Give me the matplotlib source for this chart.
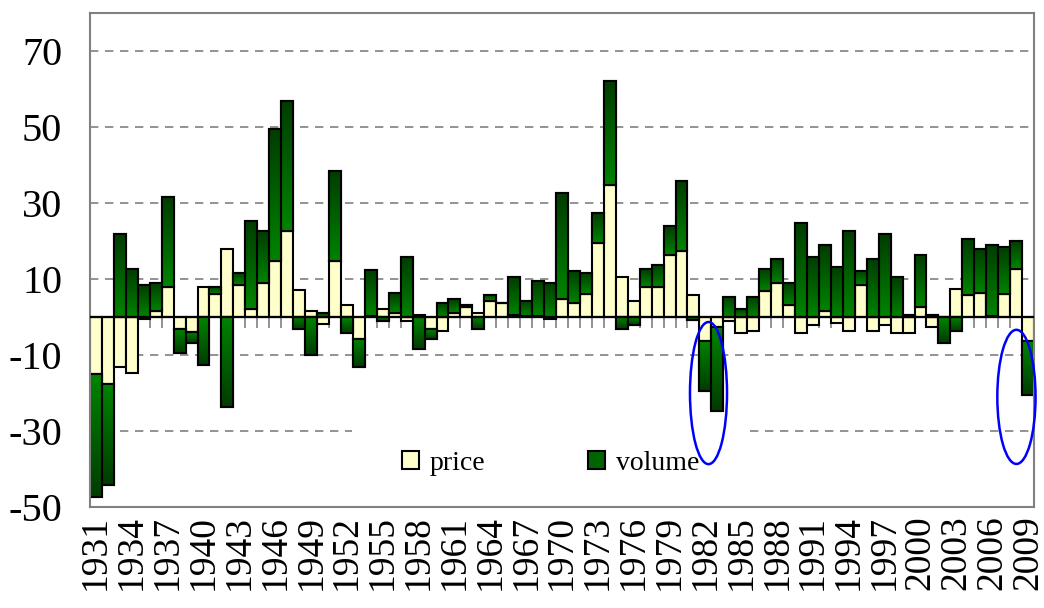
import numpy as np
import matplotlib
matplotlib.use("Agg")
import matplotlib.pyplot as plt
from matplotlib.patches import Ellipse, Rectangle
from matplotlib.colors import LinearSegmentedColormap

# yearly contributions
years = list(range(1931, 2010))
price = [-15.2, -17.8, -13.2, -14.9, -0.5, 1.6, 7.8, -3.2, -3.9, 7.8,
         6.1, 17.8, 8.3, 2.1, 8.9, 14.7, 22.5, 6.9, 1.6, -2.0,
         14.7, 3.2, -5.8, 0.2, 2.1, 1.1, -1.0, 0.4, -3.2, -3.7,
         1.1, 2.6, 1.1, 4.2, 3.7, 0.5, 0.2, 0.2, -0.5, 4.7,
         3.5, 6.1, 19.5, 34.7, 10.5, 4.2, 7.9, 7.9, 16.3, 17.4,
         5.8, -6.4, -2.6, -1.0, -4.2, -3.7, 6.8, 8.9, 3.2, -4.2,
         -2.1, 1.6, -1.6, -3.7, 8.4, -3.7, -2.1, -4.2, -4.2, 2.6,
         -2.6, -0.2, 7.4, 5.8, 6.3, 0.2, 6.1, 12.6, -6.4]
volume = [-32.2, -26.5, 21.7, 12.6, 8.3, 7.4, 23.8, -6.4, -2.9, -12.6,
          1.7, -23.7, 3.3, 23.2, 13.6, 34.8, 34.3, -3.2, -10.0, 0.9,
          23.7, -4.2, -7.4, 12.1, -1.0, 5.2, 15.7, -8.4, -2.6, 3.7,
          3.6, 0.6, -3.2, 1.6, 0.0, 10.0, 4.0, 9.3, 8.9, 27.9,
          8.6, 5.5, 7.9, 27.4, -3.2, -2.1, 4.7, 5.8, 7.6, 18.4,
          -0.8, -13.2, -22.1, 5.3, 2.1, 5.3, 5.8, 6.4, 5.7, 24.7,
          15.8, 17.4, 13.2, 22.6, 3.7, 15.3, 21.7, 10.5, 0.5, 13.7,
          0.5, -6.8, -3.7, 14.7, 11.6, 18.7, 12.3, 7.4, -14.1]
year_labels = [str(y) for y in years[::3]]
y_ticks = [-50, -30, -10, 10, 30, 50, 70]

# highlighted spots (center year, center value, width in years, height)
circles = [(1982.26, -20.1, 3.1, 37.4), (2008.03, -21.1, 3.2, 35.3)]

x = np.array(years)
p = np.array(price)
v = np.array(volume)
# Excel-style stacking: negatives stack downward, positives upward
v_bottom = np.where(v >= 0, np.maximum(p, 0), np.minimum(p, 0))

serif = "Liberation Serif"
fig = plt.figure(figsize=(10.44, 6.08), dpi=100)
ax = fig.add_axes([90 / 1044, 1 - 506.7 / 608, 944 / 1044, 494 / 608])
ax.set_axisbelow(True)

p_bars = ax.bar(x, p, width=1.0, color="#FFFFCC", edgecolor="black",
                linewidth=1.5, zorder=2, label="price")
v_bars = ax.bar(x, v, width=1.0, bottom=v_bottom, color="#006400",
                edgecolor="black", linewidth=1.5, zorder=2, label="volume")

# vertical gradient on the green bars
cmap = LinearSegmentedColormap.from_list("g", ["#003c00", "#008400"])
grad = np.linspace(0, 1, 128).reshape(-1, 1)
for patch in v_bars:
    bb = patch.get_bbox()
    if bb.height == 0:
        continue
    im = ax.imshow(grad, cmap=cmap, extent=(bb.x0, bb.x1, bb.y0, bb.y1),
                   aspect="auto", zorder=2.1, interpolation="bilinear")
    im.set_clip_path(patch)
ax.bar(x, v, width=1.0, bottom=v_bottom, fill=False, edgecolor="black",
       linewidth=1.5, zorder=2.2)

ax.set_xlim(1930.5, 2009.5)
ax.set_ylim(-50, 80)
ax.set_aspect("auto")

# zero line with category tick marks
ax.axhline(0, color="black", linewidth=1.6, zorder=3)
ax.vlines(np.arange(1930.5, 2010.5, 1.0), -3.0, 0, colors="#808080",
          linewidth=1.2, zorder=1.5)

ax.set_yticks(y_ticks)
ax.set_yticklabels([str(t) for t in y_ticks], family=serif, fontsize=29)
ax.set_xticks(years[::3])
ax.set_xticklabels(year_labels, rotation=90, family=serif, fontsize=27)
ax.tick_params(axis="y", length=0, pad=20)
ax.tick_params(axis="x", length=0, pad=6)
ax.yaxis.grid(True, linestyle=(0, (5, 4)), color="#808080", linewidth=1.2)

for s in ax.spines.values():
    s.set_color("#808080")
    s.set_linewidth(1.5)

# white legend area hiding the grid
ax.add_patch(Rectangle((0.2775, 0.02), 0.4216, 0.16, transform=ax.transAxes,
                       facecolor="white", edgecolor="none", zorder=1.2))
ax.legend(handles=[p_bars, v_bars], labels=["price", "volume"], loc="center",
          bbox_to_anchor=(0.488, 0.088), ncol=2, frameon=False,
          prop={"family": serif, "size": 20}, handlelength=0.6,
          handleheight=0.6, handletextpad=0.4, columnspacing=3.7)

for cx, cy, w, h in circles:
    ax.add_patch(Ellipse((cx, cy), w, h, fill=False, edgecolor="blue",
                         linewidth=1.8, zorder=5, clip_on=False))

fig.savefig("out.png", dpi=100)
